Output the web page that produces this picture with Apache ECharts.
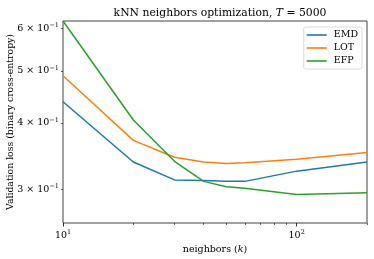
<!DOCTYPE html>
<html><head><meta charset="utf-8">
<script src="https://cdn.jsdelivr.net/npm/echarts@6/dist/echarts.min.js"></script>
<style>html,body{margin:0;padding:0;background:#fff}#c{width:374px;height:259px}</style>
</head><body><div id="c"></div>
<script>
const neighbors = [10, 20, 30, 40, 50, 60, 100, 200];
const emd = [0.438, 0.338, 0.313, 0.312, 0.311, 0.311, 0.325, 0.338];
const lot = [0.490, 0.371, 0.345, 0.338, 0.336, 0.337, 0.342, 0.352];
const efp = [0.620, 0.405, 0.339, 0.311, 0.304, 0.302, 0.294, 0.296];
const yTicks = [0.3, 0.4, 0.5, 0.6];
const xMajor = [10, 100];
const xMinor = [20, 30, 40, 50, 60, 70, 80, 90, 200];

const F = 'DejaVu Serif';
const pair = (a) => neighbors.map((x, i) => [x, a[i]]);
const chart = echarts.init(document.getElementById('c'));
const sup = {fontFamily: F, fontSize: 6.5, color: '#000', padding: [0, 0, 6, 0]};
const base = {fontFamily: F, fontSize: 9.5, color: '#000'};
chart.setOption({
  animation: false,
  title: {
    text: 'kNN neighbors optimization, {i|T} = 5000',
    left: 215, textAlign: 'center', top: 3,
    textStyle: {fontFamily: F, fontSize: 10.8, fontWeight: 'normal', color: '#000',
      rich: {i: {fontFamily: F, fontSize: 10.8, fontStyle: 'italic', color: '#000'}}}
  },
  grid: {left: 63, right: 7, top: 21, bottom: 36, show: true, borderColor: '#111', borderWidth: 0.8,
    containLabel: false, outerBoundsMode: 'none'},
  legend: {
    orient: 'vertical', right: 12, top: 27,
    data: ['EMD', 'LOT', 'EFP'],
    icon: 'rect',
    itemWidth: 20, itemHeight: 1.6, itemGap: 3,
    padding: [3, 4, 3, 3],
    borderColor: '#d0d0d0', borderWidth: 0.8, borderRadius: 2,
    textStyle: {fontFamily: F, fontSize: 9.5, color: '#000', padding: [0, 0, 0, 2]}
  },
  xAxis: [{
    type: 'log', min: 10, max: 200,
    name: 'neighbors ({i|k})', nameLocation: 'middle', nameGap: 22, nameMoveOverlap: false,
    nameTextStyle: {fontFamily: F, fontSize: 9.5, color: '#000',
      rich: {i: {fontFamily: F, fontSize: 9.5, fontStyle: 'italic', color: '#000'}}},
    axisLine: {show: false},
    splitLine: {show: false},
    axisTick: {show: true, customValues: xMajor, length: 3.5, lineStyle: {color: '#000', width: 0.8}},
    axisLabel: {customValues: xMajor, margin: 6,
      formatter: (v) => '{a|10}{s|' + Math.round(Math.log10(v)) + '}',
      rich: {a: base, s: sup}}
  }, {
    type: 'log', min: 10, max: 200, position: 'bottom',
    axisLine: {show: false}, splitLine: {show: false},
    axisTick: {show: true, customValues: xMinor, length: 2, lineStyle: {color: '#000', width: 0.6}},
    axisLabel: {show: false}
  }],
  yAxis: {
    type: 'log', min: 0.26, max: 0.62,
    name: 'Validation loss (binary cross-entropy)', nameLocation: 'middle', nameGap: 48, nameMoveOverlap: false,
    nameTextStyle: {fontFamily: F, fontSize: 9.3, color: '#000'},
    axisLine: {show: false}, splitLine: {show: false},
    axisTick: {show: true, customValues: yTicks, length: 2, lineStyle: {color: '#000', width: 0.6}},
    axisLabel: {customValues: yTicks, margin: 4,
      formatter: (v) => '{a|' + Math.round(v * 10) + ' × 10}{s|−1}',
      rich: {a: base, s: sup}}
  },
  series: [
    {name: 'EMD', type: 'line', data: pair(emd), symbol: 'none', lineStyle: {color: '#1f77b4', width: 1.5}, itemStyle: {color: '#1f77b4'}},
    {name: 'LOT', type: 'line', data: pair(lot), symbol: 'none', lineStyle: {color: '#ff7f0e', width: 1.5}, itemStyle: {color: '#ff7f0e'}},
    {name: 'EFP', type: 'line', data: pair(efp), symbol: 'none', lineStyle: {color: '#2ca02c', width: 1.5}, itemStyle: {color: '#2ca02c'}}
  ]
});
</script></body></html>
